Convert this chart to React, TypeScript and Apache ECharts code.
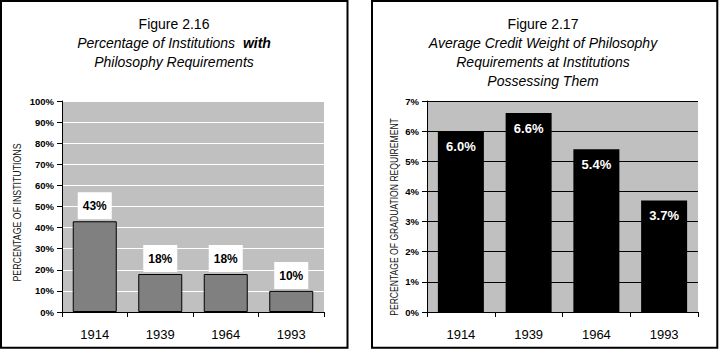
import React, { useEffect, useRef } from "react";
import * as echarts from "echarts";

const years = ["1914", "1939", "1964", "1993"];
const pctInstitutions = [43, 18, 18, 10];
const creditWeight = [6.0, 6.6, 5.4, 3.7];

const leftTitle = ["Figure 2.16", "Percentage of Institutions  ", "with", "Philosophy Requirements"];
const rightTitle = [
  "Figure 2.17",
  "Average Credit Weight of Philosophy",
  "Requirements at Institutions",
  "Possessing Them",
];
const leftAxisName = "PERCENTAGE OF INSTITUTIONS";
const rightAxisName = "PERCENTAGE OF GRADUATION REQUIREMENT";

const FONT = '"Liberation Sans", Arial, sans-serif';

export default function App() {
  const ref = useRef<HTMLDivElement>(null);
  useEffect(() => {
    if (!ref.current) return;
    const chart = echarts.init(ref.current, null, { renderer: "svg" });
    const yLabel = { fontFamily: FONT, fontSize: 9.5, fontWeight: "bold", color: "#000", margin: 8 };
    const xLabel = { fontFamily: FONT, fontSize: 13, color: "#000", margin: 16 };
    const axisLine = { show: true, lineStyle: { color: "#000", width: 1 } };
    const axisTick = { show: true, length: 5, lineStyle: { color: "#000", width: 1 } };
    chart.setOption({
      animation: false,
      backgroundColor: "#fff",
      textStyle: { fontFamily: FONT },
      grid: [
        { left: 62, top: 101, width: 262, height: 211, show: true, backgroundColor: "#c0c0c0", borderWidth: 0 },
        { left: 427, top: 101, width: 271, height: 211, show: true, backgroundColor: "#c0c0c0", borderWidth: 0 },
      ],
      xAxis: [
        { type: "category", gridIndex: 0, data: years, axisLine, axisTick, axisLabel: xLabel },
        { type: "category", gridIndex: 1, data: years, axisLine, axisTick, axisLabel: xLabel },
      ],
      yAxis: [
        {
          type: "value", gridIndex: 0, min: 0, max: 100, interval: 10,
          axisLine, axisTick,
          axisLabel: { ...yLabel, formatter: "{value}%" },
          splitLine: { show: true, lineStyle: { color: "#fff", width: 1 } },
        },
        {
          type: "value", gridIndex: 1, min: 0, max: 7, interval: 1,
          axisLine, axisTick,
          axisLabel: { ...yLabel, formatter: "{value}%" },
          splitLine: { show: true, lineStyle: { color: "#000", width: 1 } },
        },
      ],
      series: [
        {
          type: "bar", xAxisIndex: 0, yAxisIndex: 0, data: pctInstitutions, barWidth: 44,
          itemStyle: { color: "#808080", borderColor: "#000", borderWidth: 1 },
          label: {
            show: true, position: "top", distance: 2,
            formatter: (p: any) => p.value + "%",
            fontFamily: FONT, fontSize: 12, fontWeight: "bold", color: "#000",
            backgroundColor: "#fff", padding: [8, 5, 7, 5],
          },
        },
        {
          type: "bar", xAxisIndex: 1, yAxisIndex: 1, data: creditWeight, barWidth: 46,
          itemStyle: { color: "#000" },
          label: {
            show: true, position: "insideTop", distance: 9,
            formatter: (p: any) => Number(p.value).toFixed(1) + "%",
            fontFamily: FONT, fontSize: 13, fontWeight: "bold", color: "#fff",
          },
        },
      ],
      graphic: [
        { type: "rect", shape: { x: 1, y: 1, width: 346.5, height: 346.7 }, style: { fill: "none", stroke: "#000", lineWidth: 2 }, silent: true },
        { type: "rect", shape: { x: 372, y: 1, width: 345.3, height: 346.7 }, style: { fill: "none", stroke: "#000", lineWidth: 2 }, silent: true },
        { type: "text", x: 174, y: 24, style: { text: leftTitle[0], fontFamily: FONT, fontSize: 14, fill: "#000", textAlign: "center", textVerticalAlign: "middle" } },
        {
          type: "text", x: 174, y: 43,
          style: {
            text: "{i|" + leftTitle[1] + "}{b|" + leftTitle[2] + "}",
            rich: {
              i: { fontFamily: FONT, fontSize: 14, fontStyle: "italic", fill: "#000" },
              b: { fontFamily: FONT, fontSize: 14, fontStyle: "italic", fontWeight: "bold", fill: "#000" },
            },
            textAlign: "center", textVerticalAlign: "middle",
          },
        },
        { type: "text", x: 174, y: 62, style: { text: leftTitle[3], fontFamily: FONT, fontSize: 14, fontStyle: "italic", fill: "#000", textAlign: "center", textVerticalAlign: "middle" } },
        { type: "text", x: 543, y: 24, style: { text: rightTitle[0], fontFamily: FONT, fontSize: 14, fill: "#000", textAlign: "center", textVerticalAlign: "middle" } },
        { type: "text", x: 543, y: 43, style: { text: rightTitle[1], fontFamily: FONT, fontSize: 14, fontStyle: "italic", fill: "#000", textAlign: "center", textVerticalAlign: "middle" } },
        { type: "text", x: 543, y: 62, style: { text: rightTitle[2], fontFamily: FONT, fontSize: 14, fontStyle: "italic", fill: "#000", textAlign: "center", textVerticalAlign: "middle" } },
        { type: "text", x: 543, y: 80.5, style: { text: rightTitle[3], fontFamily: FONT, fontSize: 14, fontStyle: "italic", fill: "#000", textAlign: "center", textVerticalAlign: "middle" } },
        { type: "text", x: 17, y: 212.5, rotation: Math.PI / 2, scaleY: 1.25, style: { text: leftAxisName, fontFamily: FONT, fontSize: 8.8, fill: "#111", textAlign: "center", textVerticalAlign: "middle" } },
        { type: "text", x: 394.3, y: 217, rotation: Math.PI / 2, scaleY: 1.25, style: { text: rightAxisName, fontFamily: FONT, fontSize: 8.6, fill: "#111", textAlign: "center", textVerticalAlign: "middle" } },
      ],
    });
    return () => chart.dispose();
  }, []);
  return <div ref={ref} style={{ position: "fixed", left: 0, top: 0, width: 720, height: 355 }} />;
}
